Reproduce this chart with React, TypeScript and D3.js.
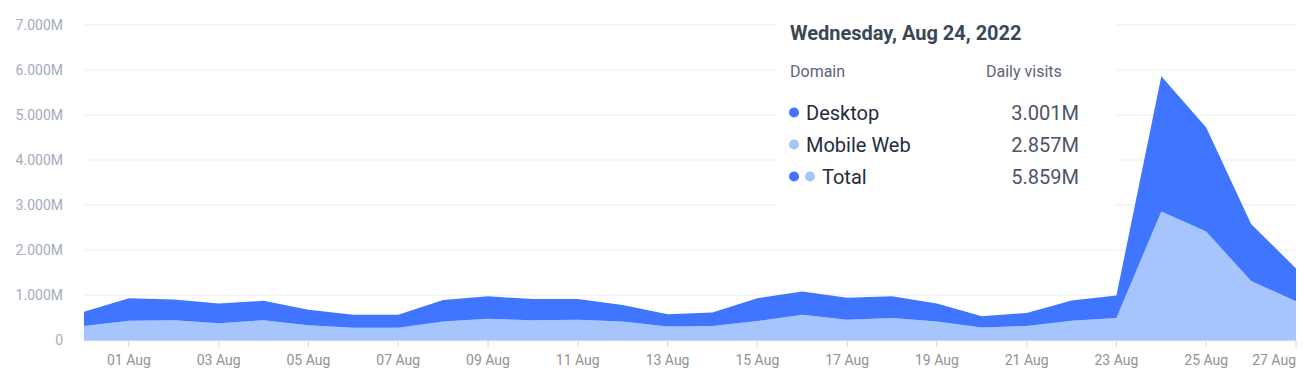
import React from "react";
import * as d3 from "d3";

// daily visits, 31 Jul .. 27 Aug 2022
const dayLabels = [
  "2022-07-31", "2022-08-01", "2022-08-02", "2022-08-03", "2022-08-04", "2022-08-05", "2022-08-06",
  "2022-08-07", "2022-08-08", "2022-08-09", "2022-08-10", "2022-08-11", "2022-08-12", "2022-08-13",
  "2022-08-14", "2022-08-15", "2022-08-16", "2022-08-17", "2022-08-18", "2022-08-19", "2022-08-20",
  "2022-08-21", "2022-08-22", "2022-08-23", "2022-08-24", "2022-08-25", "2022-08-26", "2022-08-27",
];

const mobileWeb = [
  310000, 430000, 440000, 370000, 440000, 330000, 270000,
  270000, 410000, 470000, 440000, 450000, 410000, 300000,
  310000, 420000, 560000, 450000, 490000, 410000, 280000,
  310000, 430000, 490000, 2857300, 2410000, 1310000, 860000,
];

const desktop = [
  320000, 500000, 460000, 440000, 430000, 340000, 290000,
  290000, 480000, 500000, 470000, 460000, 370000, 270000,
  300000, 510000, 520000, 490000, 480000, 400000, 250000,
  290000, 450000, 500000, 3001400, 2310000, 1270000, 730000,
];

const yTicks = [0, 1e6, 2e6, 3e6, 4e6, 5e6, 6e6, 7e6];

const seriesNames = ["Mobile Web", "Desktop"];
const seriesColors = ["#a7c5fd", "#4076ff"];

const hoverDay = "2022-08-24";

const W = 1304;
const H = 384;
const margin = { top: 25, right: 8, bottom: 44, left: 84 };

export default function App() {
  const parse = d3.timeParse("%Y-%m-%d");
  const dates = dayLabels.map((s) => parse(s) as Date);

  const rows = dates.map((d, i) => ({ date: d, "Mobile Web": mobileWeb[i], Desktop: desktop[i] }));
  const stacked = d3.stack<any>().keys(seriesNames)(rows);

  const x = d3
    .scaleTime()
    .domain(d3.extent(dates) as [Date, Date])
    .range([margin.left, W - margin.right]);
  const y = d3
    .scaleLinear()
    .domain([0, 7e6])
    .range([H - margin.bottom, margin.top]);

  const area = d3
    .area<any>()
    .x((d) => x(d.data.date))
    .y0((d) => y(d[0]))
    .y1((d) => y(d[1]));

  const xTicks = dates.filter((d) => d.getMonth() === 7 && d.getDate() % 2 === 1);
  const tickFmt = d3.timeFormat("%d %b");
  const yFmt = (v: number) => (v === 0 ? "0" : d3.format(".3f")(v / 1e6) + "M");
  const valFmt = (v: number) => d3.format(".3f")(v / 1e6) + "M";

  const hi = dayLabels.indexOf(hoverDay);
  const hd = dates[hi];
  const tipTitle = d3.timeFormat("%A, %b %-d, %Y")(hd);
  const tipRows = [
    { name: "Desktop", value: desktop[hi], dots: [seriesColors[1]] },
    { name: "Mobile Web", value: mobileWeb[hi], dots: [seriesColors[0]] },
    { name: "Total", value: desktop[hi] + mobileWeb[hi], dots: [seriesColors[1], seriesColors[0]] },
  ];

  const font = "Roboto, 'Noto Sans', sans-serif";
  const baseY = y(0);

  return (
    <div>
      <style>{`body{margin:0}`}</style>
      <svg width={W} height={H} style={{ display: "block", fontFamily: font }}>
        <rect width={W} height={H} fill="#ffffff" />

        {/* grid */}
        {yTicks.map((t) => (
          <g key={t}>
            {t > 0 && (
              <line x1={margin.left} x2={W - margin.right} y1={y(t)} y2={y(t)} stroke="#ebedf0" strokeWidth={1} />
            )}
            <text x={63} y={y(t) + 5} textAnchor="end" fontSize={14} fill="#a3acbb">
              {yFmt(t)}
            </text>
          </g>
        ))}

        {/* areas */}
        {stacked.map((s, i) => (
          <path key={s.key} d={area(s) || ""} fill={seriesColors[i]} />
        ))}

        {/* x axis */}
        <line x1={margin.left} x2={W - margin.right} y1={baseY + 0.5} y2={baseY + 0.5} stroke="#ccd6eb" />
        {xTicks.map((t, i) => {
          const px = x(t);
          const last = i === xTicks.length - 1;
          return (
            <g key={i}>
              <line x1={px} x2={px} y1={baseY} y2={baseY + 7} stroke="#ccd6eb" />
              <text x={px} y={365} textAnchor={last ? "end" : "middle"} fontSize={14} fill="#929292">
                {tickFmt(t)}
              </text>
            </g>
          );
        })}

        {/* tooltip */}
        <g>
          <rect x={776} y={0} width={340} height={224} fill="#ffffff" />
          <text x={790} y={40} fontSize={20} fontWeight="bold" fill="#3a4757">
            {tipTitle}
          </text>
          <text x={790} y={77} fontSize={16} fill="#5b6676">
            Domain
          </text>
          <text x={986} y={77} fontSize={16} fill="#5b6676">
            Daily visits
          </text>
          {tipRows.map((r, i) => {
            const by = 119.5 + i * 32;
            return (
              <g key={r.name}>
                {r.dots.map((c, j) => (
                  <circle key={j} cx={794} transform={`translate(${j * 16},0)`} cy={by - 7} r={5} fill={c} />
                ))}
                <text x={806 + (r.dots.length - 1) * 16} y={by} fontSize={20} fill="#1f2d3d">
                  {r.name}
                </text>
                <text x={1079} y={by} textAnchor="end" fontSize={20} fill="#4a5668">
                  {valFmt(r.value)}
                </text>
              </g>
            );
          })}
        </g>
      </svg>
    </div>
  );
}
